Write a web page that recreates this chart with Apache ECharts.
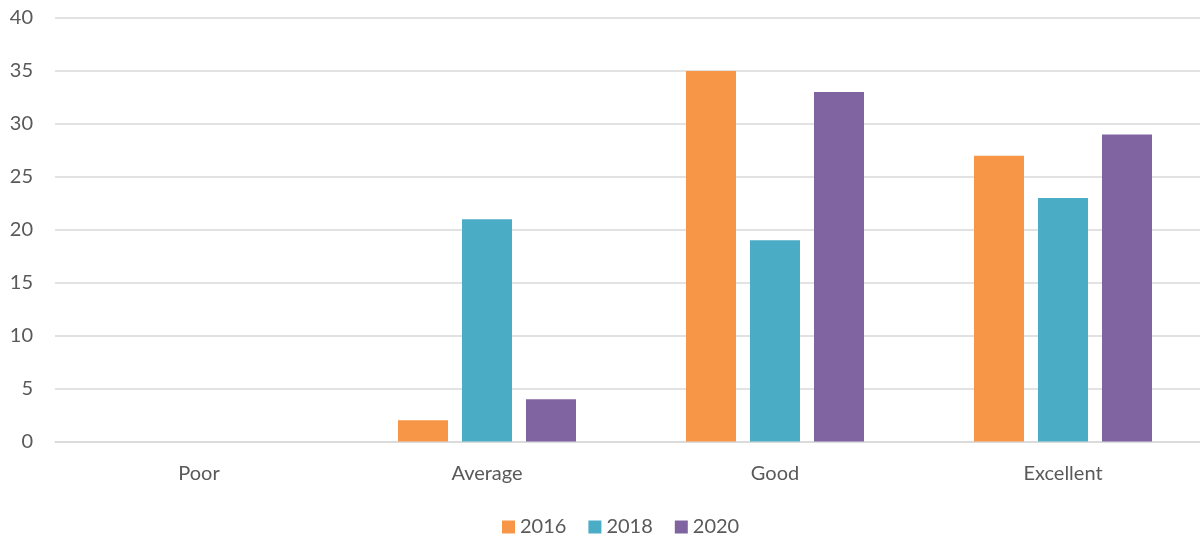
<!DOCTYPE html>
<html>
<head>
<meta charset="utf-8">
<script src="https://cdn.jsdelivr.net/npm/echarts@6/dist/echarts.min.js"></script>
<style>
  html, body { margin: 0; padding: 0; background: #fff; }
  #chart { width: 1200px; height: 540px; }
</style>
</head>
<body>
<div id="chart"></div>
<script>
// Ratings by year
const categories = ['Poor', 'Average', 'Good', 'Excellent'];
const years = ['2016', '2018', '2020'];
const values2016 = [0, 2, 35, 27];
const values2018 = [0, 21, 19, 23];
const values2020 = [0, 4, 33, 29];
const colors = ['#F79646', '#4BACC6', '#8064A2'];

const font = 'Lato, "Open Sans", sans-serif';
const textColor = '#595959';

const seriesData = [values2016, values2018, values2020];

const chart = echarts.init(document.getElementById('chart'), null, { renderer: 'canvas' });
chart.setOption({
  animation: false,
  backgroundColor: '#fff',
  color: colors,
  grid: {
    left: 55, top: 18, width: 1152, height: 423.5,
    containLabel: false, outerBoundsMode: 'none'
  },
  legend: {
    top: 512,
    left: 497,
    itemWidth: 13,
    itemHeight: 13,
    itemGap: 22,
    icon: 'rect',
    textStyle: { color: textColor, fontSize: 20, fontFamily: font },
    data: years
  },
  xAxis: {
    type: 'category',
    data: categories,
    axisLine: { show: true, lineStyle: { color: '#d9d9d9', width: 1.5 } },
    axisTick: { show: false },
    axisLabel: { color: textColor, fontSize: 20, fontFamily: font, margin: 22 }
  },
  yAxis: {
    type: 'value',
    min: 0,
    max: 40,
    interval: 5,
    axisLine: { show: false },
    axisTick: { show: false },
    splitLine: { lineStyle: { color: '#d9d9d9', width: 1.5 } },
    axisLabel: { color: textColor, fontSize: 20, fontFamily: font, margin: 22 }
  },
  series: years.map((y, i) => ({
    name: y,
    type: 'bar',
    data: seriesData[i],
    barWidth: 50,
    barGap: '28%',
    itemStyle: { color: colors[i] }
  }))
});
</script>
</body>
</html>
